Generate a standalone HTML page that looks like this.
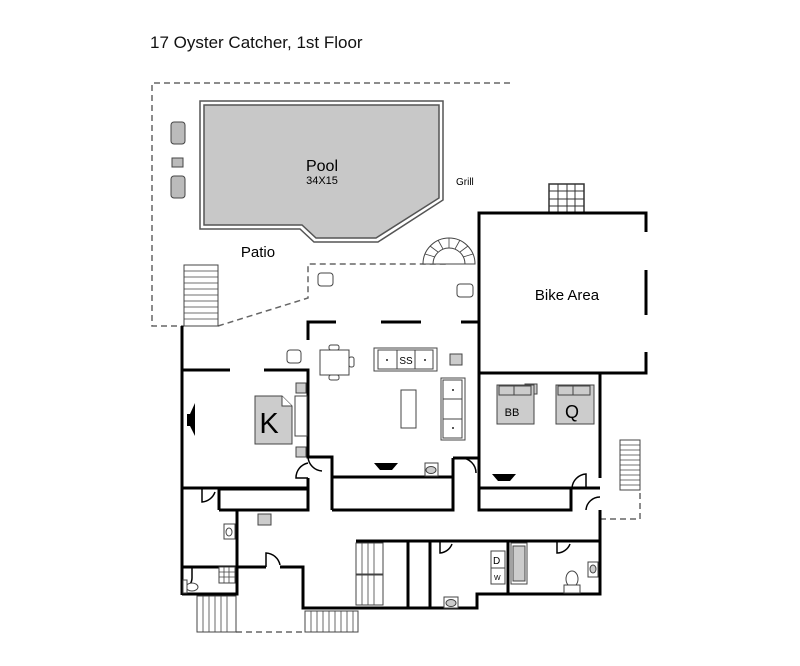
<!DOCTYPE html>
<html><head><meta charset="utf-8"><style>
html,body{margin:0;padding:0;background:#fff;}
svg{display:block;font-family:"Liberation Sans",Arial,sans-serif;}
</style></head><body>
<svg width="800" height="666" viewBox="0 0 800 666" xmlns="http://www.w3.org/2000/svg">
<rect width="800" height="666" fill="#fff"/>
<text x="150" y="48" font-size="17" fill="#111">17 Oyster Catcher, 1st Floor</text>

<g fill="none" stroke="#666" stroke-width="1.5" stroke-dasharray="6,4">
<path d="M510 83 H152 V326 H184"/>
<path d="M218 326 L308 298 V264 H448"/>
<path d="M600 519 H640 V490"/>
<path d="M236 632 H305"/>
</g>

<path d="M200 101 H443 V200 L378 242 H314 L300 229 H200 Z" fill="#fff" stroke="#555" stroke-width="1.5"/>
<path d="M204 105 H439 V198 L376 238 H316 L302 225 H204 Z" fill="#c8c8c8" stroke="#555" stroke-width="1.5"/>
<text x="322" y="171" font-size="16" text-anchor="middle">Pool</text>
<text x="322" y="184" font-size="11" text-anchor="middle">34X15</text>
<text x="456" y="185" font-size="10">Grill</text>
<text x="258" y="257" font-size="15" text-anchor="middle">Patio</text>

<g fill="#bbb" stroke="#444" stroke-width="1">
<rect x="171" y="122" width="14" height="22" rx="3"/>
<rect x="171" y="176" width="14" height="22" rx="3"/>
<rect x="172" y="158" width="11" height="9"/>
</g>
<g fill="#fff" stroke="#444" stroke-width="1">
<rect x="318" y="273" width="15" height="13" rx="3"/>
<rect x="457" y="284" width="16" height="13" rx="3"/>
<rect x="287" y="350" width="14" height="13" rx="3"/>
</g>
<path d="M423 264 A26 26 0 0 1 475 264 Z" fill="#fff" stroke="#444" stroke-width="1"/>
<path d="M433 264 A16 16 0 0 1 465 264" fill="none" stroke="#444"/>
<g stroke="#444" stroke-width="0.8">
<line x1="423" y1="264" x2="433" y2="264"/><line x1="425" y1="254" x2="435" y2="257"/><line x1="430" y1="246" x2="438" y2="252"/><line x1="438" y1="240" x2="443" y2="249"/><line x1="449" y1="238" x2="449" y2="248"/><line x1="460" y1="240" x2="455" y2="249"/><line x1="468" y1="246" x2="460" y2="252"/><line x1="473" y1="254" x2="463" y2="257"/>
</g>

<g fill="#fff" stroke="#444" stroke-width="1">
<rect x="184" y="265" width="34" height="61"/>
<rect x="620" y="440" width="20" height="50"/>
<rect x="197" y="596" width="39" height="36"/>
<rect x="305" y="611" width="53" height="21"/>
<rect x="356" y="543" width="27" height="31"/>
<rect x="356" y="575" width="27" height="30"/>
</g>
<g stroke="#444" stroke-width="0.8">
<path d="M184 271H218M184 277H218M184 283H218M184 289H218M184 295H218M184 301H218M184 307H218M184 313H218M184 319H218"/>
<path d="M620 445H640M620 450H640M620 455H640M620 460H640M620 465H640M620 470H640M620 475H640M620 480H640M620 485H640"/>
<path d="M203 596V632M209 596V632M215 596V632M221 596V632M227 596V632"/>
<path d="M311 611V632M317 611V632M323 611V632M329 611V632M335 611V632M341 611V632M347 611V632M353 611V632"/>
<path d="M362 543V605M368 543V605M374 543V605"/>
</g>
<rect x="549" y="184" width="35" height="29" fill="#fff" stroke="#333" stroke-width="1.5"/>
<path d="M558 184V213M567 184V213M575 184V213M549 191H584M549 199H584M549 206H584" stroke="#333" stroke-width="1"/>

<g fill="none" stroke="#000" stroke-width="3">
<path d="M479 373 V213 H646 V232"/>
<path d="M646 270 V315 M646 352 V373 H479"/>
<path d="M308 340 V322 H336 M381 322 H421 M461 322 H479"/>
<path d="M182 326 V595"/>
<path d="M182 370 H230 M264 370 H308 V457 H332 V510"/>
<path d="M308 478 V488 H182"/>
<path d="M219 510 V489 H308 V510 H219"/>
<path d="M332 477 H453 V510 H332"/>
<path d="M453 458 V477 M453 458 H479"/>
<path d="M479 373 V510 H571 V488 H479"/>
<path d="M479 373 H600 V478 M600 488 H572"/>
<path d="M600 510 V594 H477 V608 H303 V567 H280 M266 567 H182"/>
<path d="M237 510 V594 H182"/>
<path d="M356 541 H600 M408 541 V608 M430 541 V608 M508 541 V594"/>
</g>
<g fill="none" stroke="#000" stroke-width="1.5">
<path d="M308 463 A15 15 0 0 0 296 478 H308"/>
<path d="M308 457 A15 15 0 0 0 322 471"/>
<path d="M461 458 A15 15 0 0 1 476 473"/>
<path d="M572 488 A15 15 0 0 1 586 474 V488"/>
<path d="M600 497 A14 14 0 0 0 586 510"/>
<path d="M202 488 V502 A15 15 0 0 0 215 492"/>
<path d="M266 567 V553 A15 15 0 0 1 280 565"/>
<path d="M440 541 V553 A14 14 0 0 0 452 544"/>
<path d="M557 541 V553 A14 14 0 0 0 570 544"/>
<path d="M192 567 V578 A10 10 0 0 1 183 588"/>
</g>

<g fill="#fff" stroke="#444" stroke-width="1">
<rect x="320" y="350" width="29" height="25"/>
<rect x="329" y="345" width="10" height="5" rx="2"/><rect x="329" y="375" width="10" height="5" rx="2"/><rect x="349" y="357" width="5" height="10" rx="2"/>
<rect x="374" y="348" width="63" height="23"/>
<rect x="378" y="350" width="55" height="19"/>
<line x1="397" y1="350" x2="397" y2="369"/><line x1="415" y1="350" x2="415" y2="369"/>
<rect x="441" y="378" width="24" height="62"/>
<rect x="443" y="380" width="19" height="58"/>
<line x1="443" y1="399" x2="462" y2="399"/><line x1="443" y1="419" x2="462" y2="419"/>
<rect x="401" y="390" width="15" height="38"/>
<rect x="425" y="463" width="13" height="13"/><ellipse cx="431" cy="470" rx="5" ry="3.5" fill="#ccc"/>
<rect x="224" y="524" width="11" height="15"/><ellipse cx="229" cy="532" rx="3" ry="4"/>
<rect x="444" y="597" width="14" height="11"/><ellipse cx="451" cy="603" rx="5" ry="3.5" fill="#ccc"/>
<rect x="588" y="562" width="10" height="15"/><ellipse cx="593" cy="569" rx="3" ry="4" fill="#ccc"/>
<rect x="491" y="551" width="14" height="17"/><rect x="491" y="568" width="14" height="16"/>
<rect x="511" y="543" width="16" height="41"/><rect x="513" y="546" width="12" height="35" fill="#ccc"/>
<ellipse cx="572" cy="579" rx="6" ry="8"/><rect x="564" y="585" width="16" height="8"/>
<ellipse cx="192" cy="587" rx="6" ry="4"/><rect x="183" y="580" width="4" height="13"/>
</g>
<text x="493" y="564" font-size="10">D</text><text x="494" y="580" font-size="7">W</text>
<text x="406" y="364" font-size="10" text-anchor="middle">SS</text>
<g fill="#222"><circle cx="387" cy="360" r="1"/><circle cx="425" cy="360" r="1"/><circle cx="453" cy="390" r="1"/><circle cx="453" cy="428" r="1"/></g>
<g fill="#ccc" stroke="#444" stroke-width="1">
<rect x="450" y="354" width="12" height="11"/>
<rect x="258" y="514" width="13" height="11"/>
<rect x="525" y="384" width="12" height="10"/>
<rect x="296" y="383" width="10" height="10"/><rect x="296" y="447" width="10" height="10"/>
<rect x="295" y="396" width="12" height="40" fill="#fff"/>
<path d="M255 396 H282 L292 406 V444 H255 Z"/>
<path d="M497 385 H534 V424 H497 Z"/>
<path d="M556 385 H594 V424 H556 Z"/>
<rect x="219" y="567" width="16" height="16" fill="#fff"/>
</g>
<path d="M219 572H235M219 577H235M224 567V583M229 567V583" stroke="#444" stroke-width="0.8"/>
<path d="M282 396 V406 H292" fill="#fff" stroke="#444"/>
<g fill="none" stroke="#444"><path d="M499 386H531V395H499Z M514 386V395"/><path d="M558 386H590V395H558Z M573 386V395"/></g>
<text x="269" y="433" font-size="29" text-anchor="middle">K</text>
<text x="512" y="416" font-size="11" text-anchor="middle">BB</text>
<text x="572" y="418" font-size="18" text-anchor="middle">Q</text>
<g fill="#000">
<path d="M374 463 H398 L392 470 H380 Z"/>
<path d="M492 474 H516 L510 481 H498 Z"/>
<path d="M195 403 V436 L190 426 H187 V414 H190 Z"/>
</g>
<text x="567" y="300" font-size="15" text-anchor="middle">Bike Area</text>
</svg>
</body></html>
